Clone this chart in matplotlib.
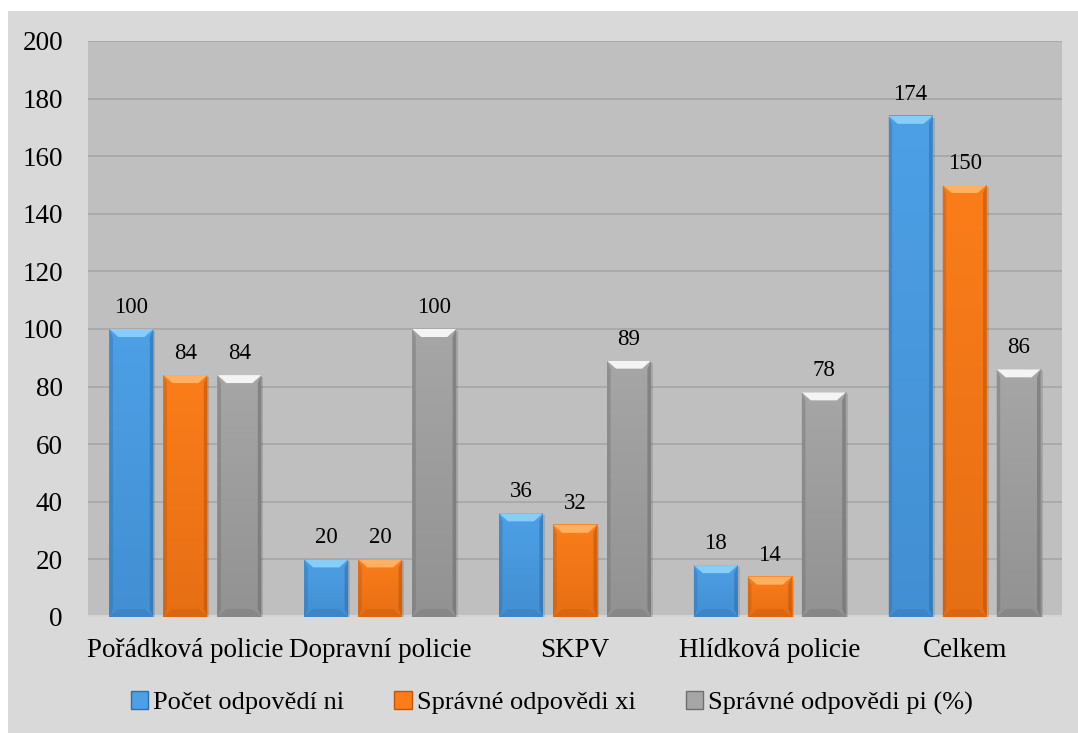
import numpy as np
import matplotlib
matplotlib.use("Agg")
import matplotlib.pyplot as plt
from matplotlib.patches import Rectangle, Polygon

plt.rcParams['font.family'] = ['Liberation Serif', 'DejaVu Serif']

categories = ["Pořádková policie", "Dopravní policie", "SKPV", "Hlídková policie", "Celkem"]
pocet_ni = [100, 20, 36, 18, 174]
spravne_xi = [84, 20, 32, 14, 150]
spravne_pi = [84, 100, 89, 78, 86]

series = [
    ("Počet odpovědí ni", pocet_ni, "#4da0e6", "#86cdf8", "#2f6fae"),
    ("Správné odpovědi xi", spravne_xi, "#fb7d1a", "#ffb060", "#c05408"),
    ("Správné odpovědi pi (%)", spravne_pi, "#a6a6a6", "#f4f4f4", "#6e6e6e"),
]

W, H = 1078, 733
fig = plt.figure(figsize=(W / 100, H / 100), dpi=100)
fig.patch.set_facecolor("white")
# chart area background
fig.patches.append(Rectangle((8 / W, 0), 1 - 8 / W, 1 - 11 / H, transform=fig.transFigure,
                             facecolor="#d9d9d9", edgecolor="none", zorder=-5))

ax = fig.add_axes([88 / W, 1 - 617 / H, (1062 - 88) / W, (617 - 41) / H])
ax.set_zorder(2)
ax.set_facecolor("#bfbfbf")
ax.set_xlim(-0.5, len(categories) - 0.5)
ax.set_ylim(0, 200)
ax.set_yticks(range(0, 201, 20))
ax.grid(axis="y", color="#a6a6a6", linewidth=1.2)
ax.set_axisbelow(True)
for s in ax.spines.values():
    s.set_visible(False)
ax.tick_params(length=0, labelsize=19.5)
ax.tick_params(axis="y", pad=18)
ax.tick_params(axis="x", pad=15)
ax.set_xticks(range(len(categories)))
ax.set_xticklabels(categories)
# light floor under the bars
ax.axhline(0, color="#d4d4d4", linewidth=3, zorder=1)

# pixel sizes in data units
px_x = 1.0 / (1062 - 88) * len(categories)
px_y = 200.0 / (617 - 41)

bar_w = 44 * px_x
step = 54 * px_x


def bevel_bar(x, h, body, light, dark):
    x0, x1 = x - bar_w / 2, x + bar_w / 2
    # shadow
    ax.add_patch(Rectangle((x0 + 2 * px_x, -2 * px_y), bar_w, h, facecolor="black",
                           alpha=0.12, edgecolor="none", zorder=2))
    # body with vertical gradient
    c_top = np.array(matplotlib.colors.to_rgb(body))
    c_bot = np.array(matplotlib.colors.to_rgb(dark)) * 0.35 + c_top * 0.65
    t = np.linspace(0, 1, 64)[:, None, None]
    grad = c_bot * (1 - t) + c_top * t
    ax.imshow(grad, extent=[x0, x1, 0, h], origin="lower", aspect="auto",
              interpolation="bilinear", zorder=3)
    bx, by = 9 * px_x, 8 * px_y
    bt = min(by, h / 2)
    # top bevel
    ax.add_patch(Polygon([(x0, h), (x1, h), (x1 - bx, h - bt), (x0 + bx, h - bt)],
                         closed=True, facecolor=light, edgecolor="none", zorder=4))
    # side edges
    ax.add_patch(Polygon([(x0, 0), (x0, h), (x0 + bx * 0.4, h - bt), (x0 + bx * 0.4, bt)],
                         closed=True, facecolor=dark, alpha=0.4, edgecolor="none", zorder=4))
    ax.add_patch(Polygon([(x1, 0), (x1, h), (x1 - bx * 0.4, h - bt), (x1 - bx * 0.4, bt)],
                         closed=True, facecolor=dark, alpha=0.6, edgecolor="none", zorder=4))
    # bottom bevel
    ax.add_patch(Polygon([(x0, 0), (x1, 0), (x1 - bx, bt), (x0 + bx, bt)],
                         closed=True, facecolor=dark, alpha=0.3, edgecolor="none", zorder=4))
    ax.text(x, h + 16 * px_y, str(h), ha="center", va="baseline", fontsize=16.5, zorder=5)


for k, (name, vals, body, light, dark) in enumerate(series):
    for i, v in enumerate(vals):
        bevel_bar(i + (k - 1) * step, v, body, light, dark)

ax.set_xlim(-0.5, len(categories) - 0.5)
ax.set_ylim(0, 200)

handles = [Rectangle((0, 0), 1, 1, facecolor=b, edgecolor=d, linewidth=1.0)
           for _, _, b, _, d in series]
fig.legend(handles, [s[0] for s in series], loc="center", bbox_to_anchor=(552 / W, 1 - 703 / H),
           ncol=3, frameon=False, fontsize=19, handlelength=0.65, handleheight=0.65,
           handletextpad=0.2, columnspacing=1.9)

fig.savefig("out.png", dpi=100, facecolor=fig.get_facecolor())
